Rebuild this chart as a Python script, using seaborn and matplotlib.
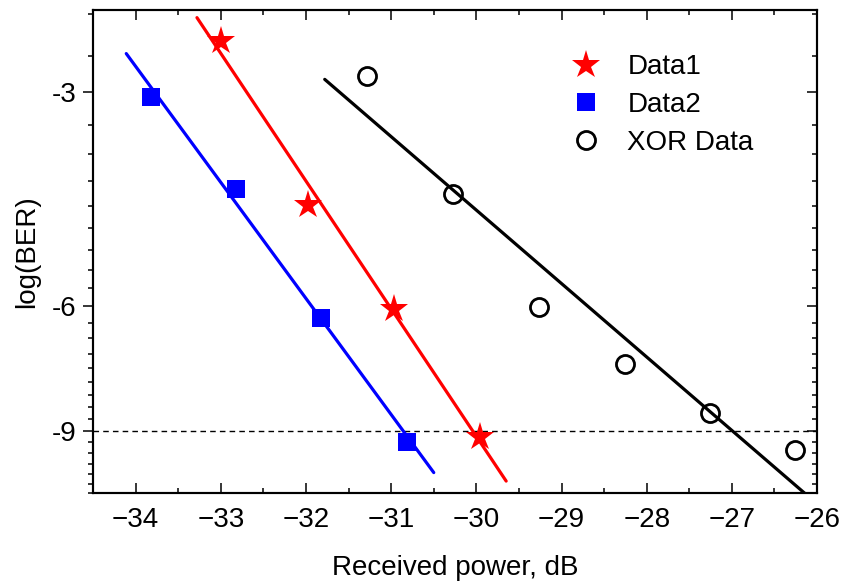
import numpy as np
import matplotlib
matplotlib.use('Agg')
import matplotlib.pyplot as plt
from matplotlib.ticker import FixedLocator, MultipleLocator
import seaborn as sns

# received power (dB) and log(BER)
data1_x = [-33.0, -31.98, -30.97, -29.96]
data1_y = [-2.54, -4.32, -6.06, -9.17]
data2_x = [-33.82, -32.82, -31.82, -30.81]
data2_y = [-3.05, -4.11, -6.24, -9.33]
xor_x = [-31.28, -30.28, -29.27, -28.26, -27.26, -26.26]
xor_y = [-2.85, -4.17, -6.02, -7.24, -8.49, -9.56]

# x span over which each fitted line is drawn
fit1_range = [-33.28, -29.65]
fit2_range = [-34.11, -30.5]
fit3_range = [-31.78, -25.7]

y_ticks = [-3, -6, -9]
ber_limit = -9


def fwd(y):
    with np.errstate(invalid='ignore', divide='ignore'):
        return -np.log10(-np.asarray(y, dtype=float))


def inv(u):
    return -10 ** (-np.asarray(u, dtype=float))


def fit_line(xs, ys, rng):
    coef = np.polyfit(xs, fwd(ys), 1)
    xx = np.array(rng)
    return xx, inv(np.polyval(coef, xx))


def main():
    sns.set_style('ticks')
    plt.rcParams['font.family'] = ['Liberation Sans', 'DejaVu Sans']
    plt.rcParams['axes.linewidth'] = 1.5
    for k in ['text.color', 'axes.labelcolor', 'xtick.color', 'ytick.color', 'axes.edgecolor']:
        plt.rcParams[k] = 'black'

    fig = plt.figure(figsize=(8.42, 5.86), dpi=100)
    ax = fig.add_axes([0.1105, 0.1587, 0.8599, 0.8242])
    ax.set_yscale('function', functions=(fwd, inv))

    ax.axhline(ber_limit, color='black', lw=1, ls=(0, (4, 3)), zorder=1)

    for xs, ys, rng, col in [(data1_x, data1_y, fit1_range, 'red'),
                             (data2_x, data2_y, fit2_range, 'blue'),
                             (xor_x, xor_y, fit3_range, 'black')]:
        fx, fy = fit_line(xs, ys, rng)
        sns.lineplot(x=fx, y=fy, color=col, lw=2.3, ax=ax, zorder=2)

    sns.lineplot(x=data1_x, y=data1_y, ax=ax, color='red', linestyle='', marker='*',
                 markersize=21, markeredgewidth=0, markeredgecolor='red', label='Data1', zorder=3)
    sns.lineplot(x=data2_x, y=data2_y, ax=ax, color='blue', linestyle='', marker='s',
                 markersize=13.5, markeredgewidth=0, markeredgecolor='blue', label='Data2', zorder=3)
    sns.lineplot(x=xor_x, y=xor_y, ax=ax, color='black', linestyle='', marker='o',
                 markersize=13, markerfacecolor='none', markeredgewidth=2,
                 markeredgecolor='black', label='XOR Data', zorder=3)

    ax.set_xlim(-34.5, -26.0)
    ax.set_ylim(-11.0, -2.3)
    ax.xaxis.set_major_locator(MultipleLocator(1))
    ax.xaxis.set_minor_locator(MultipleLocator(0.5))
    ax.yaxis.set_major_locator(FixedLocator(y_ticks))
    ax.yaxis.set_minor_locator(MultipleLocator(1 / 3))
    ax.set_yticklabels([str(t) for t in y_ticks])

    ax.tick_params(axis='x', which='both', direction='in', top=True, bottom=True,
                   labelsize=20, width=1.1, pad=10)
    ax.tick_params(axis='x', which='major', length=7)
    ax.tick_params(axis='x', which='minor', length=3.6)
    ax.tick_params(axis='y', which='both', direction='out', left=True, right=False,
                   labelsize=20, width=1.1, pad=5)
    ax.tick_params(axis='y', which='major', length=7)
    ax.tick_params(axis='y', which='minor', length=3.6)

    ax2 = ax.twinx()
    ax2.set_yscale('function', functions=(fwd, inv))
    ax2.set_ylim(ax.get_ylim())
    ax2.yaxis.set_major_locator(FixedLocator(y_ticks))
    ax2.yaxis.set_minor_locator(MultipleLocator(1 / 3))
    ax2.tick_params(axis='y', which='both', direction='in', labelright=False, width=1.1)
    ax2.tick_params(axis='y', which='major', length=7)
    ax2.tick_params(axis='y', which='minor', length=3.6)

    ax.set_xlabel('Received power, dB', fontsize=20, labelpad=16)
    ax.set_ylabel('log(BER)', fontsize=20, labelpad=8)

    ax.legend(loc='upper left', bbox_to_anchor=(0.617, 0.96), frameon=False, fontsize=20,
              handlelength=1.5, handletextpad=0.75, labelspacing=0.42, borderpad=0.4)

    fig.savefig('out.png', dpi=100)
    plt.close(fig)


if __name__ == '__main__':
    main()
